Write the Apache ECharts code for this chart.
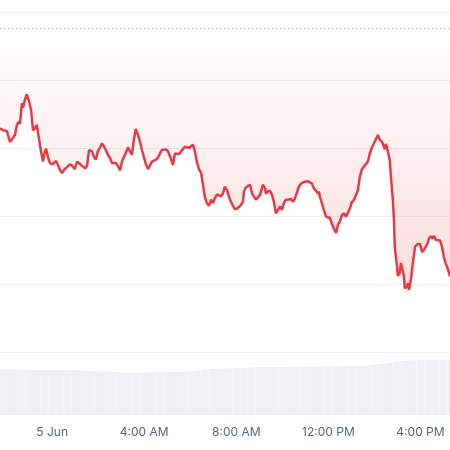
<!DOCTYPE html>
<html><head><meta charset="utf-8">
<script src="https://cdn.jsdelivr.net/npm/echarts@6/dist/echarts.min.js"></script>
<style>html,body{margin:0;padding:0;background:#fff}#c{width:450px;height:450px}</style>
</head><body><div id="c"></div>
<script>
// minutes relative to 00:00, 5 Jun
const times = [-136,-128,-123,-118,-110,-102,-97,-92,-86,-84,-79,-76,-71,-66,-60,-55,-50,-45,-40,-34,-29,-24,-21,-16,-11,-6,0,5,10,15,20,26,31,36,41,46,52,57,59,65,70,75,80,86,91,96,99,104,109,114,119,125,130,135,140,145,151,156,161,166,172,177,182,187,192,198,203,208,213,218,224,229,234,239,245,250,255,260,265,271,276,281,286,291,297,302,307,312,315,320,325,331,336,341,346,351,357,362,367,372,377,383,388,393,398,403,409,414,419,424,430,435,440,445,450,456,461,466,471,476,482,487,492,497,500,505,510,516,521,526,531,536,542,547,549,555,557,562,568,573,578,583,589,594,599,604,609,615,622,628,633,638,643,648,656,661,667,672,677,682,688,693,695,698,703,708,714,719,724,729,734,740,745,750,755,761,766,771,776,781,787,792,797,802,807,813,818,823,828,833,839,844,849,854,860,865,867,870,875,880,883,888,891,893,899,901,906,909,914,917,919,925,927,930,935,940,946,951,953,959,961,964,969,974,979,982,987,992,995,1000,1005,1011,1016,1021,1026,1032,1037];
const prices = [1832.9,1832.6,1832.4,1832.5,1830.9,1831.5,1831.9,1833.4,1833.9,1833.5,1836.6,1835.9,1837.1,1837.9,1836.8,1835.6,1832.6,1832.9,1833.4,1831.2,1829.5,1828.0,1829.0,1829.9,1828.7,1827.8,1827.6,1827.6,1828.1,1827.5,1826.8,1826.3,1826.8,1826.8,1827.3,1827.6,1827.4,1827.3,1826.9,1828.0,1827.8,1827.5,1827.3,1827.0,1827.4,1829.7,1829.8,1829.5,1828.7,1828.3,1829.5,1830.1,1830.7,1830.2,1829.7,1829.0,1828.5,1827.8,1827.6,1827.8,1827.3,1826.7,1828.0,1828.2,1829.3,1830.1,1829.5,1829.0,1831.2,1832.8,1831.9,1830.9,1829.7,1828.7,1827.5,1826.9,1827.4,1828.0,1828.2,1828.3,1828.6,1829.2,1829.7,1829.9,1829.8,1829.5,1828.8,1828.0,1827.5,1829.2,1829.4,1829.1,1829.5,1829.7,1830.2,1830.0,1830.0,1830.1,1830.5,1829.5,1828.0,1826.8,1826.4,1824.6,1822.8,1821.9,1821.5,1822.4,1821.9,1822.6,1823.2,1823.2,1822.9,1823.3,1824.3,1823.8,1822.8,1822.1,1821.9,1821.0,1821.1,1821.3,1821.6,1822.1,1823.6,1824.2,1824.3,1824.6,1823.3,1823.2,1822.4,1822.6,1823.1,1824.1,1824.6,1824.1,1823.3,1823.6,1823.7,1823.1,1822.1,1820.4,1820.9,1821.4,1820.9,1821.9,1822.4,1822.4,1822.5,1822.1,1822.6,1822.8,1824.3,1824.7,1825.0,1825.1,1825.1,1825.0,1824.8,1824.1,1823.7,1823.3,1823.6,1822.8,1821.9,1820.9,1819.9,1820.0,1819.7,1818.9,1818.2,1817.5,1818.7,1819.2,1820.1,1820.4,1819.9,1820.5,1821.1,1822.0,1822.4,1822.4,1823.8,1825.8,1826.8,1827.3,1827.5,1828.0,1829.2,1830.0,1830.7,1830.9,1831.9,1831.2,1830.9,1830.7,1829.8,1830.6,1829.5,1828.2,1825.8,1822.4,1819.4,1815.5,1812.5,1811.2,1811.6,1813.1,1813.1,1811.1,1809.4,1809.6,1810.1,1809.1,1810.6,1813.0,1815.5,1815.7,1815.9,1815.9,1816.1,1814.7,1815.0,1815.0,1816.0,1816.7,1817.0,1816.7,1817.1,1816.5,1816.4,1816.4,1815.5,1814.0,1813.0,1812.1,1811.1];
const openPrice = 1847.6;
// volume, 20-minute buckets
const volTimes = [-140,-120,-100,-80,-60,-40,-20,0,20,40,60,80,100,120,140,160,180,200,220,240,260,280,300,320,340,360,380,400,420,440,460,480,500,520,540,560,580,600,620,640,660,680,700,720,740,760,780,800,820,840,860,880,900,920,940,960,980,1000,1020,1040];
const volumes = [72.5,72.5,72.2,72.2,71.4,71.4,71.4,71.4,71.4,71.0,71.0,70.6,69.8,69.0,69.0,68.3,67.5,66.7,67.0,67.5,67.8,67.8,67.9,68.3,68.7,69.0,70.6,72.2,73.3,73.8,74.1,74.6,74.9,75.4,75.9,76.2,76.2,76.2,76.5,76.5,76.7,76.7,77.0,77.0,77.3,77.5,77.8,77.8,78.6,80.2,81.3,83.0,84.6,86.0,86.8,87.3,87.3,87.3,87.3,87.3];
const tickTimes = [0,240,480,720,960];
const tickLabels = ['5 Jun','4:00 AM','8:00 AM','12:00 PM','4:00 PM'];

const chart = echarts.init(document.getElementById('c'), null, {renderer:'canvas'});
chart.setOption({
  animation:false,
  backgroundColor:'#fff',
  grid:[{left:0,right:0,top:12,height:340},{left:0,right:0,top:352,height:63}],
  xAxis:[
    {type:'value',gridIndex:0,min:-136,max:1037,show:false},
    {type:'value',gridIndex:1,min:-136,max:1037,
     axisLine:{show:false},axisTick:{show:false},splitLine:{show:false},
     axisLabel:{customValues:tickTimes,formatter:v=>tickLabels[tickTimes.indexOf(v)],color:'#58667e',fontSize:12,fontFamily:'Inter',margin:11}}
  ],
  yAxis:[
    {type:'value',gridIndex:0,min:1800,max:1850,interval:10,axisLabel:{show:false},axisLine:{show:false},axisTick:{show:false},
     splitLine:{lineStyle:{color:'#eceff3',width:1}}},
    {type:'value',gridIndex:1,min:0,max:100,show:false}
  ],
  series:[
    {type:'bar',xAxisIndex:1,yAxisIndex:1,data:volTimes.map((t,i)=>[t,volumes[i]]),barWidth:'100%',
     itemStyle:{color:'#eef0f4'},silent:true},
    {type:'line',xAxisIndex:0,yAxisIndex:0,data:times.map((t,i)=>[t,prices[i]]),showSymbol:false,
     lineStyle:{color:'#ea3943',width:2.5},
     areaStyle:{origin:openPrice,color:new echarts.graphic.LinearGradient(0,0,0,1,[{offset:0,color:'rgba(234,57,67,0.0)'},{offset:1,color:'rgba(234,57,67,0.24)'}])},
     markLine:{silent:true,symbol:['none','none'],label:{show:false},data:[{yAxis:openPrice}],
       lineStyle:{color:'#a3a9b3',type:[1,3],width:1}}}
  ]
});
</script></body></html>
